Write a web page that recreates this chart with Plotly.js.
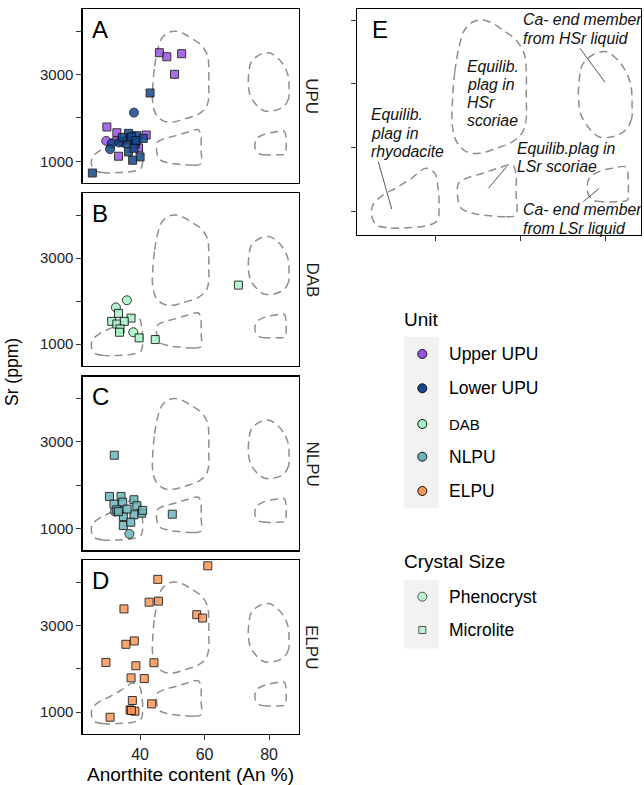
<!DOCTYPE html>
<html><head><meta charset="utf-8">
<script src="https://cdn.plot.ly/plotly-3.0.1.min.js"></script>
<style>html,body{margin:0;padding:0;background:#fff}</style>
</head><body><div id="chart" style="width:644px;height:785px"></div>
<script>
// ---------------- DATA ----------------
const units = ["Upper UPU", "Lower UPU", "DAB", "NLPU", "ELPU"];
const crystalSizes = ["Phenocryst", "Microlite"];

// Upper UPU (panel UPU)
const upperPhenoAn = [29.5, 32.6];
const upperPhenoSr = [1470, 1480];
const upperMicroAn = [46.0, 48.3, 52.9, 50.7, 29.7, 32.8, 41.9, 33.3, 39.5, 38.5];
const upperMicroSr = [3505, 3412, 3482, 3007, 1791, 1658, 1605, 1116, 1309, 1400];
// Lower UPU (panel UPU)
const lowerPhenoAn = [38.1, 31.2, 30.7, 34.3, 33.5, 36.0];
const lowerPhenoSr = [2123, 1412, 1279, 1449, 1435, 1500];
const lowerMicroAn = [25.2, 43.1, 36.4, 39.0, 41.0, 38.4, 35.9, 36.4, 40.0, 37.7, 37.4, 38.7, 38.1, 34.5];
const lowerMicroSr = [728, 2575, 1644, 1589, 1528, 1449, 1412, 1216, 1100, 1023, 1565, 1480, 1300, 1550];
// DAB
const dabPhenoAn = [35.9, 32.5, 37.9];
const dabPhenoSr = [2020, 1852, 1276];
const dabMicroAn = [70.5, 44.7, 39.7, 33.3, 37.2, 31.2, 32.8, 35.1, 33.8, 33.6];
const dabMicroSr = [2372, 1106, 1145, 1714, 1605, 1529, 1467, 1529, 1352, 1276];
// NLPU
const nlpuPhenoAn = [36.7, 32.2];
const nlpuPhenoSr = [877, 1394];
const nlpuMicroAn = [32.0, 50.0, 30.5, 34.1, 38.1, 31.9, 34.6, 39.0, 40.5, 38.1, 34.8, 34.8, 37.1, 32.8, 33.3, 36.0, 40.8];
const nlpuMicroSr = [2694, 1332, 1742, 1742, 1666, 1564, 1610, 1527, 1355, 1318, 1278, 1070, 1146, 1434, 1390, 1450, 1420];
// ELPU
const elpuMicroAn = [61.0, 45.5, 42.8, 45.7, 35.0, 57.6, 59.4, 35.6, 38.2, 29.4, 38.7, 44.3, 37.2, 41.3, 37.6, 43.6, 36.9, 38.4, 30.7, 37.3];
const elpuMicroSr = [4373, 4061, 3535, 3559, 3380, 3247, 3170, 2565, 2642, 2147, 2070, 2140, 1791, 1775, 1270, 1193, 1053, 1023, 884, 1040];

// Reference fields (An %, Sr ppm), closed outlines
const rhyoAn = [33.1, 28.4, 25.9, 24.9, 25.3, 27.6, 30.8, 34.3, 37.7, 39.8, 40.5, 40.8, 40.3, 37.7, 33.1];
const rhyoSr = [738, 738, 791, 937, 1105, 1251, 1366, 1514, 1671, 1592, 1382, 1094, 843, 769, 738];
const hsrScAn = [43.9, 44.5, 45.6, 46.8, 48.7, 51.1, 53.4, 55.8, 58.9, 60.9, 61.3, 61.3, 61.3, 60.5, 58.1, 54.2, 50.3, 47.2, 44.9, 43.9, 43.9];
const hsrScSr = [2665, 3188, 3608, 3844, 3969, 4001, 3949, 3844, 3686, 3451, 3188, 2771, 2456, 2246, 2089, 1985, 1906, 1932, 2089, 2351, 2665];
const lsrScAn = [52.7, 56.6, 58.8, 58.9, 58.9, 58.1, 54.6, 51.1, 47.2, 45.6, 45.2, 45.2, 46.0, 48.7, 52.7];
const lsrScSr = [926, 910, 937, 1303, 1566, 1723, 1671, 1592, 1514, 1455, 1408, 1200, 1042, 964, 926];
const hsrLqAn = [86.2, 86.1, 84.7, 81.6, 78.4, 76.1, 74.2, 73.6, 73.8, 74.5, 76.9, 80.0, 82.4, 84.3, 85.9, 86.2];
const hsrLqSr = [2665, 2456, 2273, 2167, 2167, 2299, 2508, 2771, 3085, 3294, 3451, 3503, 3399, 3242, 2979, 2665];
const lsrLqAn = [82.4, 79.2, 76.9, 75.7, 76.1, 78.4, 81.6, 84.7, 85.3, 85.3, 85.1, 82.4];
const lsrLqSr = [1146, 1146, 1173, 1303, 1514, 1617, 1671, 1691, 1514, 1303, 1173, 1146];

const panelLabels = ["UPU", "DAB", "NLPU", "ELPU"];
const panelLetters = ["A", "B", "C", "D"];
const xTickVals = [40, 60, 80];
const yTickVals = [1000, 2000, 3000, 4000];
const yTickText = ["1000", "", "3000", ""];

// ---------------- STYLE / LAYOUT ----------------
const W = 644, H = 785;
const colors = {"Upper UPU": "#9b52e6", "Lower UPU": "#144890", "DAB": "#a6f2c6", "NLPU": "#6cb4ba", "ELPU": "#fb9656"};
const FONT = "Liberation Sans, Arial, Helvetica, sans-serif";
function fx(p) { return p / W; }
function fy(p) { return 1 - p / H; }

const panels = [
  {top: 9.3, bot: 183},
  {top: 193.3, bot: 365.7},
  {top: 376.7, bot: 550.3},
  {top: 560, bot: 734}
];
const pxL = 82.7, pxR = 299;
const E = {l: 357.3, r: 641, t: 9.3, b: 235};

const traces = [];
const contours = [[rhyoAn, rhyoSr], [hsrScAn, hsrScSr], [lsrScAn, lsrScSr], [hsrLqAn, hsrLqSr], [lsrLqAn, lsrLqSr]];
const axisIds = ["", "2", "3", "4", "5"];
axisIds.forEach(function (id) {
  contours.forEach(function (c) {
    traces.push({x: c[0], y: c[1], xaxis: "x" + id, yaxis: "y" + id, mode: "lines", type: "scatter",
      line: {color: "#8e8e8e", width: 1.5, dash: "8px,5px", shape: "spline", smoothing: 1.0},
      hoverinfo: "skip", showlegend: false});
  });
});

function pts(xs, ys, unit, sym, ax) {
  traces.push({x: xs, y: ys, xaxis: "x" + ax, yaxis: "y" + ax, mode: "markers", type: "scatter", showlegend: false,
    marker: {symbol: sym, size: sym === "circle" ? 9 : 8, color: colors[unit], opacity: 0.85,
      line: {color: "#111", width: 1}}});
}
pts(upperPhenoAn, upperPhenoSr, "Upper UPU", "circle", "");
pts(upperMicroAn, upperMicroSr, "Upper UPU", "square", "");
pts(lowerPhenoAn, lowerPhenoSr, "Lower UPU", "circle", "");
pts(lowerMicroAn, lowerMicroSr, "Lower UPU", "square", "");
pts(dabPhenoAn, dabPhenoSr, "DAB", "circle", "2");
pts(dabMicroAn, dabMicroSr, "DAB", "square", "2");
pts(nlpuPhenoAn, nlpuPhenoSr, "NLPU", "circle", "3");
pts(nlpuMicroAn, nlpuMicroSr, "NLPU", "square", "3");
pts(elpuMicroAn, elpuMicroSr, "ELPU", "square", "4");

// legend key markers on a pixel overlay axis
const legUnitY = [354, 388.3, 424, 456.7, 491];
const legSizeY = [596.7, 630];
traces.push({x: units.map(() => 422.3), y: legUnitY, xaxis: "x6", yaxis: "y6", mode: "markers", type: "scatter",
  showlegend: false, hoverinfo: "skip",
  marker: {symbol: "circle", size: 9, color: units.map(u => colors[u]), line: {color: "#111", width: 1}}});
traces.push({x: [422.3, 422.3], y: legSizeY, xaxis: "x6", yaxis: "y6", mode: "markers", type: "scatter",
  showlegend: false, hoverinfo: "skip",
  marker: {symbol: ["circle", "square"], size: [9, 7], color: colors["DAB"], line: {color: "#111", width: 1}}});

const layout = {
  width: W, height: H, margin: {l: 0, r: 0, t: 0, b: 0},
  paper_bgcolor: "#fff", plot_bgcolor: "rgba(0,0,0,0)", showlegend: false,
  font: {family: FONT, color: "#000"},
  shapes: [], annotations: []
};

panels.forEach(function (p, i) {
  const id = i === 0 ? "" : String(i + 1);
  layout["xaxis" + id] = {domain: [fx(pxL), fx(pxR)], anchor: "y" + id, range: [22.2, 89.3],
    showline: true, mirror: true, linecolor: "#000", linewidth: 1.3, showgrid: false, zeroline: false,
    ticks: i === 3 ? "outside" : "", ticklen: 5, tickwidth: 1, tickcolor: "#333",
    tickmode: "array", tickvals: xTickVals, showticklabels: i === 3,
    tickfont: {size: 16, color: "#222", family: FONT}};
  layout["yaxis" + id] = {domain: [fy(p.bot), fy(p.top)], anchor: "x" + id, range: [498, 4507],
    showline: true, mirror: true, linecolor: "#000", linewidth: 1.3, showgrid: false, zeroline: false,
    ticks: "outside", ticklen: 5, tickwidth: 1, tickcolor: "#333",
    tickmode: "array", tickvals: yTickVals, ticktext: yTickText,
    tickfont: {size: 15, color: "#222", family: FONT}};
  layout.annotations.push({xref: "paper", yref: "paper", x: fx(312), y: fy((p.top + p.bot) / 2),
    text: panelLabels[i], showarrow: false, textangle: 90, font: {size: 17, color: "#1a1a1a"},
    xanchor: "center", yanchor: "middle"});
  layout.annotations.push({xref: "paper", yref: "paper", x: fx(90), y: fy(p.top + 20),
    text: panelLetters[i], showarrow: false, font: {size: 24, color: "#000"},
    xanchor: "left", yanchor: "middle"});
});

layout.xaxis5 = {domain: [fx(E.l), fx(E.r)], anchor: "y5", range: [21.55, 88.3],
  showline: true, mirror: true, linecolor: "#000", linewidth: 1.3, showgrid: false, zeroline: false,
  ticks: "outside", ticklen: 5, tickcolor: "#333", tickmode: "array", tickvals: xTickVals, showticklabels: false};
layout.yaxis5 = {domain: [fy(E.b), fy(E.t)], anchor: "x5", range: [623, 4169],
  showline: true, mirror: true, linecolor: "#000", linewidth: 1.3, showgrid: false, zeroline: false,
  ticks: "outside", ticklen: 5, tickcolor: "#333", tickmode: "array", tickvals: yTickVals, showticklabels: false};
layout.xaxis6 = {domain: [0, 1], range: [0, W], visible: false, fixedrange: true, anchor: "y6"};
layout.yaxis6 = {domain: [0, 1], range: [H, 0], visible: false, fixedrange: true, anchor: "x6"};

// E panel letter
layout.annotations.push({xref: "paper", yref: "paper", x: fx(369.5), y: fy(29.5), text: "E", showarrow: false,
  font: {size: 24, color: "#000"}, xanchor: "left", yanchor: "middle"});

// E panel labels (each line separately)
const eLines = [
  ["Ca- end member", 523.3, 20], ["from HSr liquid", 523.3, 38.3],
  ["Equilib.", 467.3, 66.5], ["plag in", 467.3, 84.5], ["HSr", 467.3, 102.5], ["scoriae", 467.3, 120.5],
  ["Equilib.", 370.7, 115], ["plag in", 370.7, 133.3], ["rhyodacite", 370.7, 151.7],
  ["Equilib.plag in", 516.7, 148.3], ["LSr scoriae", 516.7, 166.7],
  ["Ca- end member", 522.7, 210], ["from LSr liquid", 522.7, 228.3]
];
eLines.forEach(function (l) {
  layout.annotations.push({xref: "paper", yref: "paper", x: fx(l[1] - 2), y: fy(l[2]), text: "<i>" + l[0] + "</i>",
    showarrow: false, xanchor: "left", yanchor: "middle", font: {size: 15.8, color: "#111"}});
});
const leaders = [[580, 48.3, 605, 82.3], [378.3, 161.7, 391.7, 209], [506.7, 166.7, 488.3, 188.3], [583.3, 201.7, 599.3, 188.3]];
leaders.forEach(function (s) {
  layout.shapes.push({type: "line", xref: "paper", yref: "paper", x0: fx(s[0]), y0: fy(s[1]), x1: fx(s[2]), y1: fy(s[3]),
    line: {color: "#555", width: 1}});
});

// axis titles
layout.annotations.push({xref: "paper", yref: "paper", x: fx(12), y: fy(372), text: "Sr (ppm)", showarrow: false,
  textangle: -90, font: {size: 17.5, color: "#000"}, xanchor: "center", yanchor: "middle"});
layout.annotations.push({xref: "paper", yref: "paper", x: fx(190.8), y: fy(774), text: "Anorthite content (An %)",
  showarrow: false, font: {size: 19, color: "#000"}, xanchor: "center", yanchor: "middle"});

// legends
layout.shapes.push({type: "rect", xref: "paper", yref: "paper", x0: fx(404), x1: fx(439), y0: fy(336.7), y1: fy(508.2),
  fillcolor: "#f2f2f2", line: {width: 0}, layer: "below"});
layout.shapes.push({type: "rect", xref: "paper", yref: "paper", x0: fx(404), x1: fx(439), y0: fy(580), y1: fy(648.6),
  fillcolor: "#f2f2f2", line: {width: 0}, layer: "below"});
layout.annotations.push({xref: "paper", yref: "paper", x: fx(402), y: fy(319), text: "Unit", showarrow: false,
  xanchor: "left", yanchor: "middle", font: {size: 19, color: "#000"}});
layout.annotations.push({xref: "paper", yref: "paper", x: fx(402), y: fy(561.7), text: "Crystal Size", showarrow: false,
  xanchor: "left", yanchor: "middle", font: {size: 19, color: "#000"}});
units.forEach(function (u, i) {
  layout.annotations.push({xref: "paper", yref: "paper", x: fx(447), y: fy(legUnitY[i]), text: u, showarrow: false,
    xanchor: "left", yanchor: "middle", font: {size: u === "DAB" ? 15 : 17.5, color: "#000"}});
});
crystalSizes.forEach(function (c, i) {
  layout.annotations.push({xref: "paper", yref: "paper", x: fx(447), y: fy(legSizeY[i]), text: c, showarrow: false,
    xanchor: "left", yanchor: "middle", font: {size: 17.5, color: "#000"}});
});

Plotly.newPlot("chart", traces, layout, {staticPlot: true, displayModeBar: false});
</script></body></html>
